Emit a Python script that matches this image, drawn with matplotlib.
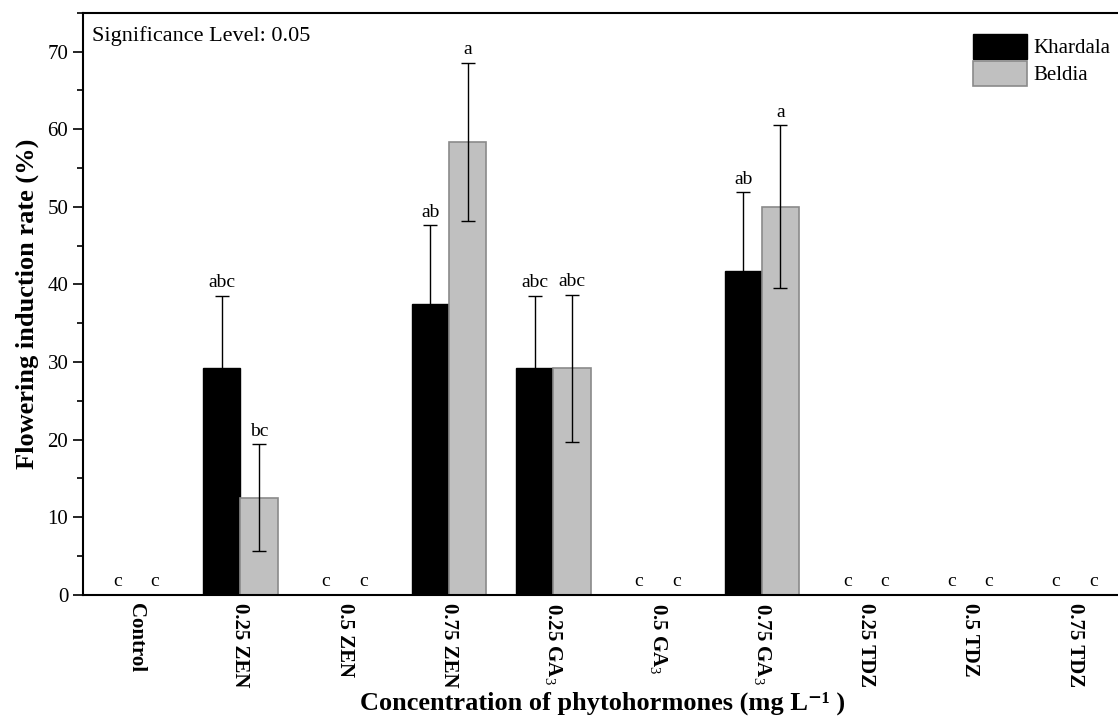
import numpy as np
import matplotlib
matplotlib.use('Agg')
import matplotlib.pyplot as plt
from matplotlib.ticker import MultipleLocator

plt.rcParams['font.family'] = ['Liberation Serif', 'DejaVu Serif']
plt.rcParams['mathtext.fontset'] = 'custom'
plt.rcParams['mathtext.rm'] = 'Liberation Serif'
plt.rcParams['mathtext.bf'] = 'Liberation Serif:bold'

categories = ['Control', '0.25 ZEN', '0.5 ZEN', '0.75 ZEN', r'0.25 GA$_3$',
              r'0.5 GA$_3$', r'0.75 GA$_3$', '0.25 TDZ', '0.5 TDZ', '0.75 TDZ']
khardala = [0, 29.17, 0, 37.5, 29.17, 0, 41.67, 0, 0, 0]
khardala_err = [0, 9.4, 0, 10.1, 9.4, 0, 10.2, 0, 0, 0]
khardala_letters = ['c', 'abc', 'c', 'ab', 'abc', 'c', 'ab', 'c', 'c', 'c']
beldia = [0, 12.5, 0, 58.33, 29.17, 0, 50.0, 0, 0, 0]
beldia_err = [0, 6.9, 0, 10.2, 9.5, 0, 10.5, 0, 0, 0]
beldia_letters = ['c', 'bc', 'c', 'a', 'abc', 'c', 'a', 'c', 'c', 'c']

fig = plt.figure(figsize=(11.18, 7.22), dpi=100)
ax = fig.add_axes([0.0742, 0.176, 0.93, 0.8064])

x = np.arange(len(categories))
w = 0.357

ax.bar(x - w / 2, khardala, w, color='black', edgecolor='black', label='Khardala', zorder=2)
ax.bar(x + w / 2, beldia, w, color='#c0c0c0', edgecolor='#8a8a8a', linewidth=1.2,
       label='Beldia', zorder=2)

for i in range(len(categories)):
    if khardala_err[i] > 0:
        ax.errorbar(x[i] - w / 2, khardala[i], yerr=khardala_err[i], fmt='none',
                    ecolor='black', elinewidth=1, capsize=5, capthick=1, zorder=3)
    if beldia_err[i] > 0:
        ax.errorbar(x[i] + w / 2, beldia[i], yerr=beldia_err[i], fmt='none',
                    ecolor='black', elinewidth=1, capsize=5, capthick=1, zorder=3)
    ax.text(x[i] - w / 2, khardala[i] + khardala_err[i] + 0.6, khardala_letters[i],
            ha='center', va='bottom', fontsize=14)
    ax.text(x[i] + w / 2, beldia[i] + beldia_err[i] + 0.6, beldia_letters[i],
            ha='center', va='bottom', fontsize=14)

ax.set_xlim(-0.51, 9.46)
ax.set_ylim(0, 75)
ax.yaxis.set_major_locator(MultipleLocator(10))
ax.yaxis.set_minor_locator(MultipleLocator(5))
ax.tick_params(axis='y', which='major', direction='out', length=7, width=1.2, labelsize=15)
ax.tick_params(axis='y', which='minor', direction='out', length=4, width=1.2)
ax.set_xticks(x)
ax.set_xticklabels(categories, rotation=270, fontsize=15, fontweight='bold', va='top')
ax.tick_params(axis='x', length=0, pad=6)

for s in ax.spines.values():
    s.set_linewidth(1.5)

ax.set_ylabel('Flowering induction rate (%)', fontsize=19, fontweight='bold', labelpad=6)
ax.set_xlabel('Concentration of phytohormones (mg L\u207b\u00b9 )', fontsize=19,
              fontweight='bold', labelpad=3)

ax.text(0.009, 0.977, 'Significance Level: 0.05', transform=ax.transAxes,
        ha='left', va='top', fontsize=16)

ax.legend(loc='upper right', frameon=False, fontsize=15, handlelength=2.6,
          handleheight=1.45, labelspacing=0.1, handletextpad=0.3,
          borderaxespad=0.2, bbox_to_anchor=(1.0, 0.985))

plt.savefig('out.png', dpi=100)
